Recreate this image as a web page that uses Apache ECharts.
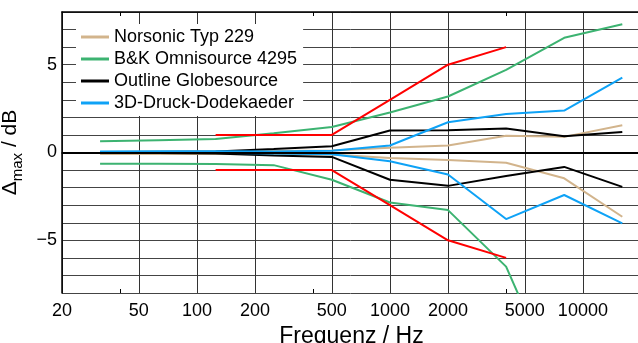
<!DOCTYPE html>
<html>
<head>
<meta charset="utf-8">
<script src="https://cdn.jsdelivr.net/npm/echarts@6/dist/echarts.min.js"></script>
<style>
  html, body { margin: 0; padding: 0; background: #fff; }
  #chart { width: 638px; height: 343px; }
</style>
</head>
<body>
<div id="chart"></div>
<script>
// Terzband-/Oktavfrequenzen
const freqs = [31.5, 63, 125, 250, 500, 1000, 2000, 4000, 8000, 16000];
const tolFreqs = [125, 250, 500, 1000, 2000, 4000];

// Toleranzgrenzen (rot)
const tolUpper = [1, 1, 1, 3, 5, 6];
const tolLower = [-1, -1, -1, -3, -5, -6];

// Quellen: obere / untere Abweichung
const norsonicUpper = [0.03, 0.05, 0.05, 0.08, 0.12, 0.27, 0.4, 0.95, 0.89, 1.55];
const norsonicLower = [-0.08, -0.08, -0.08, -0.1, -0.12, -0.32, -0.43, -0.58, -1.47, -3.66];
const bkUpper = [0.64, 0.7, 0.77, 1.1, 1.45, 2.28, 3.19, 4.7, 6.53, 7.3];
const bkLower = [-0.64, -0.64, -0.65, -0.72, -1.55, -2.85, -3.28, -6.5, -14, null];
const outlineUpper = [0.02, 0.03, 0.05, 0.2, 0.36, 1.25, 1.26, 1.36, 0.92, 1.17];
const outlineLower = [-0.02, -0.03, -0.05, -0.17, -0.25, -1.55, -1.9, -1.34, -0.82, -1.96];
const blueUpper = [0.05, 0.07, 0.07, 0.06, 0.1, 0.4, 1.72, 2.19, 2.39, 4.26];
const blueLower = [0.0, 0.0, -0.02, -0.05, -0.1, -0.5, -1.25, -3.79, -2.42, -4.04];

const xTicks = [20, 50, 100, 200, 500, 1000, 2000, 5000, 10000];
const xMinorTicks = [40, 400, 4000];
const yLabelValues = [-5, 0, 5];

const FONT = "'Liberation Sans', Arial, sans-serif";

function pairs(xs, ys) {
  return xs.map((x, i) => [x, ys[i]]);
}

function lineSeries(name, color, xs, ys) {
  return {
    name: name,
    type: 'line',
    data: pairs(xs, ys),
    showSymbol: false,
    symbol: 'none',
    connectNulls: false,
    animation: false,
    lineStyle: { color: color, width: 2 },
    itemStyle: { color: color }
  };
}

const names = ['Norsonic Typ 229', 'B&K Omnisource 4295', 'Outline Globesource', '3D-Druck-Dodekaeder'];
const colors = ['#d2b48c', '#3cb371', '#000000', '#0ea2f6'];

const series = [];
const first = lineSeries(names[0], colors[0], freqs, norsonicUpper);
// dicke Nulllinie
first.markLine = {
  silent: true,
  symbol: 'none',
  animation: false,
  label: { show: false },
  lineStyle: { color: '#000', width: 2, type: 'solid' },
  data: [{ yAxis: 0 }]
};
series.push(first);
series.push(lineSeries(names[0], colors[0], freqs, norsonicLower));
series.push(lineSeries(names[1], colors[1], freqs, bkUpper));
series.push(lineSeries(names[1], colors[1], freqs, bkLower));
series.push(lineSeries(names[2], colors[2], freqs, outlineUpper));
series.push(lineSeries(names[2], colors[2], freqs, outlineLower));
series.push(lineSeries(names[3], colors[3], freqs, blueUpper));
series.push(lineSeries(names[3], colors[3], freqs, blueLower));
series.push(lineSeries('Toleranz', '#ff0000', tolFreqs, tolUpper));
series.push(lineSeries('Toleranz', '#ff0000', tolFreqs, tolLower));

const chart = echarts.init(document.getElementById('chart'));

const option = {
  backgroundColor: '#fff',
  animation: false,
  textStyle: { fontFamily: FONT },
  grid: { left: 62, top: 12, width: 579, height: 281, containLabel: false, outerBoundsMode: 'none' },
  legend: {
    data: names,
    orient: 'vertical',
    left: 76,
    top: 24,
    backgroundColor: '#fff',
    padding: [4, 6, 4, 5],
    itemGap: 4,
    icon: 'rect',
    itemWidth: 28,
    itemHeight: 3,
    selectedMode: false,
    textStyle: { fontSize: 18, color: '#000', fontFamily: FONT }
  },
  xAxis: [
    {
      type: 'log',
      min: 20,
      max: 20000,
      position: 'bottom',
      name: 'Frequenz / Hz',
      nameLocation: 'middle',
      nameGap: 25,
      nameTextStyle: { fontSize: 23, color: '#000', fontFamily: FONT },
      axisLine: { show: true, lineStyle: { color: '#000', width: 1.5 } },
      axisTick: { show: false, customValues: xTicks },
      axisLabel: {
        customValues: xTicks,
        fontSize: 18,
        color: '#000',
        margin: 9,
        fontFamily: FONT,
        formatter: v => String(Math.round(v))
      },
      splitLine: { show: true, lineStyle: { color: '#333', width: 1 } },
      minorTick: { show: false },
      minorSplitLine: { show: false }
    },
    {
      type: 'log',
      min: 20,
      max: 20000,
      position: 'bottom',
      axisLine: { show: false },
      axisTick: { show: true, inside: true, length: 4, customValues: xMinorTicks, lineStyle: { color: '#000' } },
      axisLabel: { show: false },
      splitLine: { show: false }
    },
    {
      type: 'log',
      min: 20,
      max: 20000,
      position: 'top',
      axisLine: { show: true, lineStyle: { color: '#000', width: 1.5 } },
      axisTick: { show: true, inside: true, length: 4, customValues: xMinorTicks, lineStyle: { color: '#000' } },
      axisLabel: { show: false },
      splitLine: { show: false }
    }
  ],
  yAxis: {
    type: 'value',
    min: -8,
    max: 8,
    interval: 1,
    name: '{a|Δ}{b|max}{a| / dB}',
    nameLocation: 'middle',
    nameRotate: 90,
    nameGap: 29,
    nameTextStyle: {
      rich: {
        a: { fontSize: 21, color: '#000', fontFamily: FONT, verticalAlign: 'bottom', lineHeight: 22 },
        b: { fontSize: 15, color: '#000', fontFamily: FONT, verticalAlign: 'bottom', lineHeight: 14, padding: [0, 0, -5, 0] }
      }
    },
    axisLine: { show: true, lineStyle: { color: '#000', width: 1.5 } },
    axisTick: { show: false },
    axisLabel: {
      fontSize: 18,
      color: '#000',
      margin: 5,
      fontFamily: FONT,
      formatter: v => (yLabelValues.indexOf(v) >= 0 ? (v < 0 ? '\u2212' + (-v) : String(v)) : '')
    },
    splitLine: { show: true, lineStyle: { color: '#444', width: 1 } }
  },
  series: series
};

chart.setOption(option);
</script>
</body>
</html>
